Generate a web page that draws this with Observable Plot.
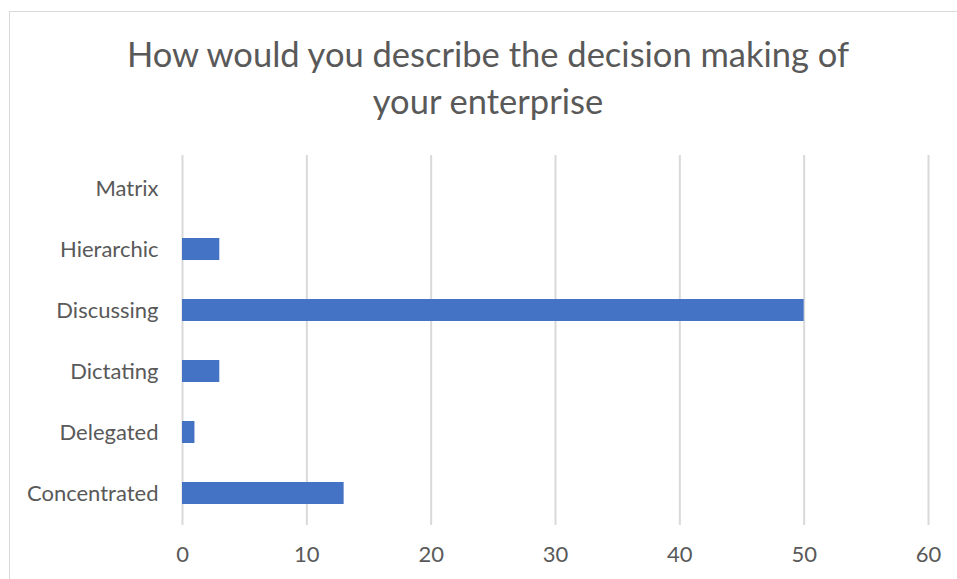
<!DOCTYPE html>
<html>
<head>
<meta charset="utf-8">
<script src="https://cdn.jsdelivr.net/npm/d3@7"></script>
<script src="https://cdn.jsdelivr.net/npm/@observablehq/plot@0.6"></script>
<style>
  html, body { margin: 0; padding: 0; background: #fff; }
  #wrap { position: relative; width: 957px; height: 579px; overflow: hidden; font-family: Lato, "Open Sans", sans-serif; }
  #frame { position: absolute; left: 9px; top: 11px; width: 1000px; height: 1000px; border: 1px solid #d9d9d9; }
  #title { position: absolute; left: 9px; width: 958px; top: 30px; text-align: center; font-size: 34.5px; line-height: 47px; color: #595959; }
  #chart { position: absolute; left: 0; top: 0; }
</style>
</head>
<body>
<div id="wrap">
  <div id="frame"></div>
  <div id="title">How would you describe the decision making of<br>your enterprise</div>
  <div id="chart"></div>
</div>
<script>
const categories = ["Matrix", "Hierarchic", "Discussing", "Dictating", "Delegated", "Concentrated"];
const values = [0, 3, 50, 3, 1, 13];
const xTicks = [0, 10, 20, 30, 40, 50, 60];

const data = categories.map((c, i) => ({category: c, value: values[i]}));

const chart = Plot.plot({
  width: 957,
  height: 579,
  marginLeft: 182,
  marginRight: 29,
  marginTop: 155,
  marginBottom: 54,
  style: {fontFamily: "Lato, 'Open Sans', sans-serif", fontSize: "22px", color: "#595959", background: "transparent"},
  x: {domain: [0, 60], ticks: xTicks, tickSize: 0, tickPadding: 21, label: null},
  y: {domain: categories, paddingInner: 0.644, paddingOuter: 0.322, tickSize: 0, tickPadding: 24, label: null},
  marks: [
    Plot.ruleX(xTicks, {stroke: "#d9d9d9", strokeWidth: 2}),
    Plot.barX(data, {x: "value", y: "category", fill: "#4472c4"})
  ]
});
document.getElementById("chart").appendChild(chart);
</script>
</body>
</html>
